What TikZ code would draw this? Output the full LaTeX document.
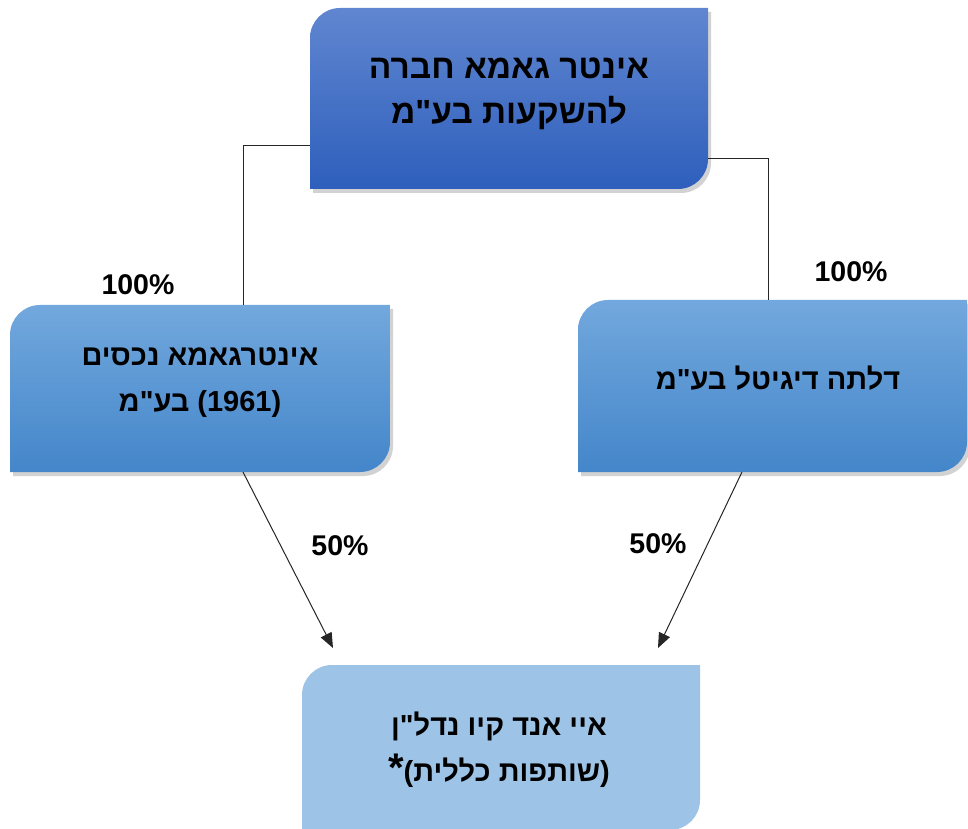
\documentclass[tikz,border=0pt]{standalone}
\usepackage{fontspec}
\setmainfont{Liberation Sans}
\newfontfamily\hebfont[Script=Hebrew]{Liberation Sans}
\TeXXeTstate=1
\usetikzlibrary{shadows,calc,arrows.meta}
\definecolor{topA}{RGB}{96,134,208}
\definecolor{topB}{RGB}{46,95,188}
\definecolor{midA}{RGB}{114,168,221}
\definecolor{midB}{RGB}{68,134,202}
\definecolor{lowC}{RGB}{157,195,230}
\newcommand\diagpath[2]{(#1.south west) -- ([yshift=-#2]#1.north west) arc[start angle=180,end angle=90,radius=#2] -- (#1.north east) -- ([yshift=#2]#1.south east) arc[start angle=0,end angle=-90,radius=#2] -- cycle}
\tikzset{
  boxframe/.style={inner sep=0pt, outer sep=0pt},
  boxtext/.style={align=center, inner sep=0pt, font=\hebfont\bfseries\fontsize{29}{46}\selectfont},
  bigtext/.style={boxtext, font=\hebfont\bfseries\fontsize{33.5}{45}\selectfont},
  pct/.style={font=\bfseries\fontsize{28.5}{30}\selectfont, inner sep=0pt},
  softshadow/.style={drop shadow={shadow xshift=3pt, shadow yshift=-4pt, opacity=0.22, fill=black!80}},
  link/.style={draw=black!85, line width=1pt},
  arrowlink/.style={link, -{Triangle[length=15pt,width=12pt]}}
}
\begin{document}
\begin{tikzpicture}[x=1pt,y=1pt]
\useasboundingbox (0,0) rectangle (968,828);
% frames
\node[boxframe, minimum width=398pt, minimum height=181pt] (top) at (509,729.5) {};
\node[boxframe, minimum width=380pt, minimum height=167pt] (left) at (200,439.5) {};
\node[boxframe, minimum width=389pt, minimum height=172pt] (right) at (772.5,442) {};
\node[boxframe, minimum width=398pt, minimum height=165pt] (bottom) at (501,80.5) {};
% shapes
\path[softshadow, top color=topA, bottom color=topB] \diagpath{top}{30pt};
\path[softshadow, top color=midA, bottom color=midB] \diagpath{left}{30pt};
\path[softshadow, top color=midA, bottom color=midB] \diagpath{right}{30pt};
\path[fill=lowC] \diagpath{bottom}{30pt};
% texts
\node[bigtext] (toptext) at ($(top)+(0,4.5)$) {\beginR אינטר גאמא חברה\endR\\\beginR להשקעות בע"מ\endR};
\node[boxtext] (lefttext) at ($(left)+(0,5.5)$) {\beginR אינטרגאמא נכסים\endR\\\beginR (1961) בע"מ\endR};
\node[boxtext] (righttext) at ($(right)+(5.5,8)$) {\beginR דלתה דיגיטל בע"מ\endR};
\node[boxtext] (bottomtext) at ($(bottom)+(-2,-2)$) {\beginR איי אנד קיו נדל"ן\endR\\\beginR (שותפות כללית){\fontsize{40}{46}\selectfont *}\endR};
% connectors
\draw[link] ([yshift=43pt]top.south west) -| ([xshift=43pt]left.north);
\draw[link] ([yshift=30pt]top.south east) -| ([xshift=-4.5pt]right.north);
\draw[arrowlink] ([xshift=43pt]left.south) -- ([xshift=-168pt,yshift=17pt]bottom.north);
\draw[arrowlink] ([xshift=-30.5pt]right.south) -- ([xshift=157pt,yshift=17pt]bottom.north);
% labels
\node[pct] (p1) at (138,543) {100\%};
\node[pct] (p2) at (851,556) {100\%};
\node[pct] (p3) at (340,282) {50\%};
\node[pct] (p4) at (658,284) {50\%};
\end{tikzpicture}
\end{document}
